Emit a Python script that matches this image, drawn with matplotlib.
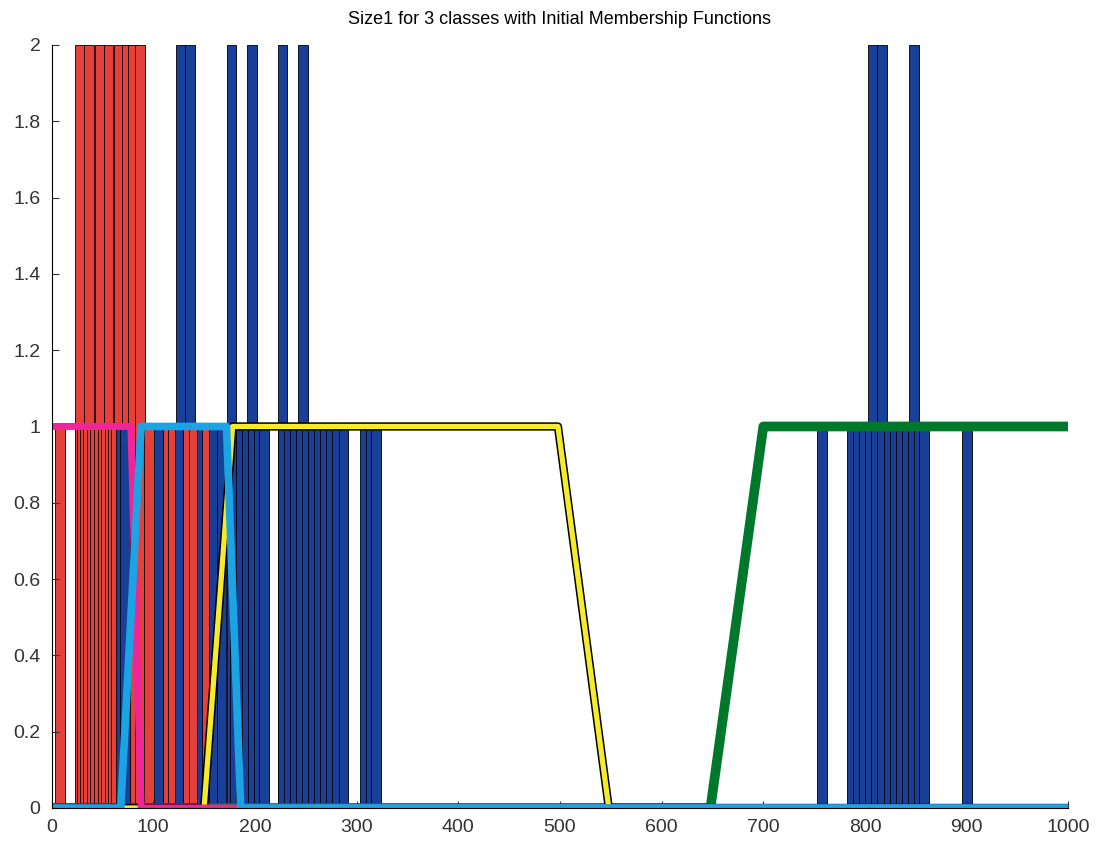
import matplotlib
matplotlib.use('Agg')
import matplotlib.pyplot as plt

plt.rcParams['font.family'] = ['Liberation Sans', 'DejaVu Sans']

# bars reaching 2
tall_red = [28, 37, 47, 56, 66, 74, 80, 87]
tall_blue = [127, 136, 177, 197, 227, 247, 808, 817, 848]

# bars reaching 1
low_red = [8, 30, 33, 36, 40, 43, 46, 50, 53, 57, 60, 63,
           96, 114, 119, 134, 140, 153]
low_blue = [68, 72, 105, 126, 148, 160, 167,
            180, 186, 192, 198, 204, 209, 227, 233, 239, 245, 251, 257,
            263, 269, 275, 281, 287, 308, 314, 319,
            758, 787, 793, 799, 805, 811, 817, 823, 829, 835, 841, 847,
            853, 858, 900]

# membership functions (trapezoids)
mf_green_x = [0, 648, 700, 1000]
mf_green_y = [0, 0, 1, 1]
mf_yellow_x = [0, 150, 178, 498, 548, 1000]
mf_yellow_y = [0, 0, 1, 1, 0, 0]
mf_magenta_x = [0, 78, 88, 1000]
mf_magenta_y = [1, 1, 0, 0]
mf_cyan_x = [0, 68, 88, 172, 186, 1000]
mf_cyan_y = [0, 0, 1, 1, 0, 0]

red = '#E5403A'
blue = '#1A3F98'
bar_w = 9.5

fig = plt.figure(figsize=(10.98, 8.42), dpi=100)
ax = fig.add_axes([0.047, 0.0404, 0.926, 0.9062])

ax.bar(tall_red, [2] * len(tall_red), width=bar_w, color=red, edgecolor='k', linewidth=0.6)
ax.bar(tall_blue, [2] * len(tall_blue), width=bar_w, color=blue, edgecolor='k', linewidth=0.6)

# low bars drawn in x order so colors interleave
low = sorted([(x, red) for x in low_red] + [(x, blue) for x in low_blue])
ax.bar([p[0] for p in low], [1] * len(low), width=bar_w,
       color=[p[1] for p in low], edgecolor='k', linewidth=0.6)

ax.plot(mf_green_x, mf_green_y, color='#00782C', lw=7)
ax.plot(mf_yellow_x, mf_yellow_y, color='k', lw=6)
ax.plot(mf_yellow_x, mf_yellow_y, color='#F5EA2C', lw=3.8)
ax.plot(mf_magenta_x, mf_magenta_y, color='#F0259A', lw=5)
ax.plot(mf_cyan_x, mf_cyan_y, color='#1CA3E3', lw=5.5)

ax.set_xlim(0, 1000)
ax.set_ylim(0, 2)
ax.set_xticks(range(0, 1001, 100))
ax.set_yticks([0, 0.2, 0.4, 0.6, 0.8, 1, 1.2, 1.4, 1.6, 1.8, 2])
ax.set_yticklabels(['0', '0.2', '0.4', '0.6', '0.8', '1', '1.2', '1.4', '1.6', '1.8', '2'])
ax.tick_params(direction='in', labelsize=14, colors='#333333', length=5)
ax.tick_params(axis='y', pad=8)
ax.tick_params(axis='x', pad=8)
ax.spines['top'].set_visible(False)
ax.spines['right'].set_visible(False)
ax.set_title('Size1 for 3 classes with Initial Membership Functions', fontsize=13, pad=15)

fig.savefig('out.png', dpi=100)
